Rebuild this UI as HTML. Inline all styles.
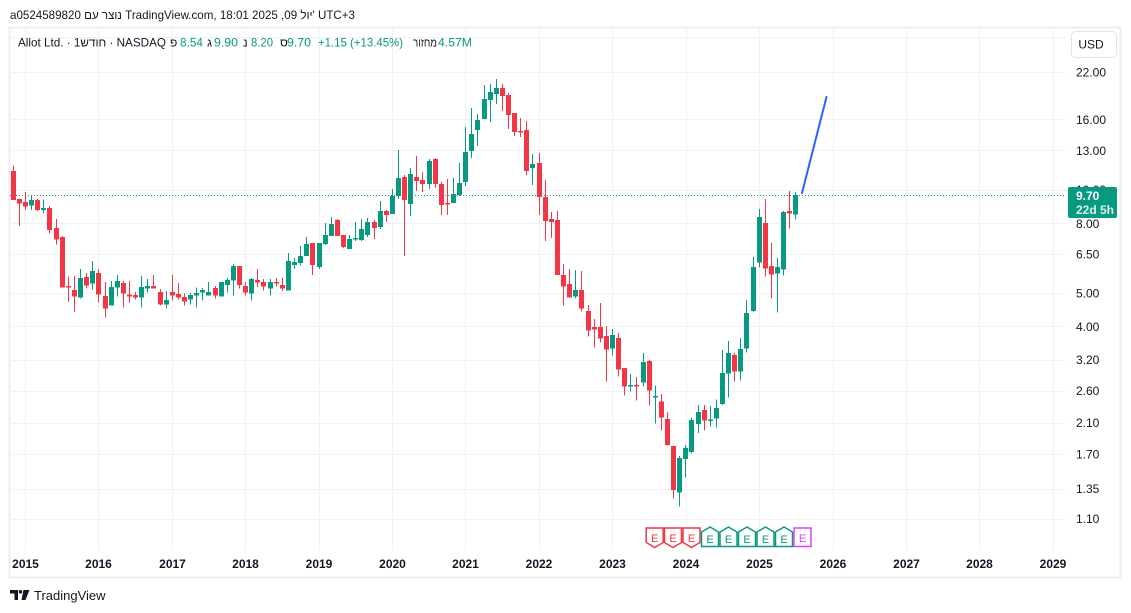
<!DOCTYPE html>
<html><head><meta charset="utf-8"><style>
html,body{margin:0;padding:0;background:#fff;width:1131px;height:613px;overflow:hidden}
svg{display:block;font-family:"Liberation Sans","Noto Sans CJK JP",sans-serif}
</style></head><body>
<svg width="1131" height="613" viewBox="0 0 1131 613" xmlns="http://www.w3.org/2000/svg">
<rect x="0" y="0" width="1131" height="613" fill="#fff"/>
<rect x="9.5" y="27.5" width="1111" height="550" fill="none" stroke="#eceef2" stroke-width="2"/>
<g stroke="#eff1f4" stroke-width="1" shape-rendering="crispEdges">
<line x1="10" y1="37.5" x2="1066" y2="37.5"/>
<line x1="10" y1="72.5" x2="1066" y2="72.5"/>
<line x1="10" y1="119.5" x2="1066" y2="119.5"/>
<line x1="10" y1="150.5" x2="1066" y2="150.5"/>
<line x1="10" y1="190.5" x2="1066" y2="190.5"/>
<line x1="10" y1="223.5" x2="1066" y2="223.5"/>
<line x1="10" y1="254.5" x2="1066" y2="254.5"/>
<line x1="10" y1="293.5" x2="1066" y2="293.5"/>
<line x1="10" y1="326.5" x2="1066" y2="326.5"/>
<line x1="10" y1="360.5" x2="1066" y2="360.5"/>
<line x1="10" y1="391.5" x2="1066" y2="391.5"/>
<line x1="10" y1="423.5" x2="1066" y2="423.5"/>
<line x1="10" y1="454.5" x2="1066" y2="454.5"/>
<line x1="10" y1="489.5" x2="1066" y2="489.5"/>
<line x1="10" y1="519.5" x2="1066" y2="519.5"/>
<line x1="25.5" y1="28" x2="25.5" y2="550"/>
<line x1="98.5" y1="28" x2="98.5" y2="550"/>
<line x1="172.5" y1="28" x2="172.5" y2="550"/>
<line x1="245.5" y1="28" x2="245.5" y2="550"/>
<line x1="319.5" y1="28" x2="319.5" y2="550"/>
<line x1="392.5" y1="28" x2="392.5" y2="550"/>
<line x1="465.5" y1="28" x2="465.5" y2="550"/>
<line x1="539.5" y1="28" x2="539.5" y2="550"/>
<line x1="612.5" y1="28" x2="612.5" y2="550"/>
<line x1="686.5" y1="28" x2="686.5" y2="550"/>
<line x1="759.5" y1="28" x2="759.5" y2="550"/>
<line x1="833.5" y1="28" x2="833.5" y2="550"/>
<line x1="906.5" y1="28" x2="906.5" y2="550"/>
<line x1="979.5" y1="28" x2="979.5" y2="550"/>
<line x1="1053.5" y1="28" x2="1053.5" y2="550"/>
</g>

<!-- price line -->
<line x1="10" y1="195.5" x2="1066" y2="195.5" stroke="#089981" stroke-width="1" stroke-dasharray="1 2"/>

<!-- green candles -->
<g fill="#089981" shape-rendering="crispEdges">
<rect x="31" y="195.3" width="1" height="14.7"/><rect x="29" y="200" width="5" height="5.7"/>
<rect x="43" y="199.3" width="1" height="14.4"/><rect x="41" y="208" width="5" height="2"/>
<rect x="80" y="269" width="1" height="29.7"/><rect x="78" y="278" width="5" height="19.7"/>
<rect x="92" y="261" width="1" height="28.7"/><rect x="90" y="271" width="5" height="12.7"/>
<rect x="111" y="281" width="1" height="24.7"/><rect x="109" y="287" width="5" height="18.7"/>
<rect x="117" y="275" width="1" height="21.7"/><rect x="115" y="281" width="5" height="6.7"/>
<rect x="141" y="276" width="1" height="31.7"/><rect x="139" y="287" width="5" height="10.7"/>
<rect x="147" y="279" width="1" height="13.7"/><rect x="145" y="286" width="5" height="2.7"/>
<rect x="166" y="291" width="1" height="17.7"/><rect x="164" y="300" width="5" height="4.7"/>
<rect x="190" y="293" width="1" height="11.7"/><rect x="188" y="295" width="5" height="4.7"/>
<rect x="196" y="287.7" width="1" height="20"/><rect x="194" y="293" width="5" height="2.7"/>
<rect x="202" y="288" width="1" height="12.7"/><rect x="200" y="290" width="5" height="2.7"/>
<rect x="208" y="282" width="1" height="13.7"/><rect x="206" y="292" width="5" height="3.7"/>
<rect x="221" y="282" width="1" height="14.7"/><rect x="219" y="282" width="5" height="14.7"/>
<rect x="227" y="278" width="1" height="14.7"/><rect x="225" y="280" width="5" height="5"/>
<rect x="233" y="264" width="1" height="31.7"/><rect x="231" y="266" width="5" height="14.7"/>
<rect x="251" y="278" width="1" height="22.7"/><rect x="249" y="279" width="5" height="14.7"/>
<rect x="270" y="279" width="1" height="16.7"/><rect x="268" y="282" width="5" height="6.7"/>
<rect x="288" y="253" width="1" height="37.7"/><rect x="286" y="261" width="5" height="29.5"/>
<rect x="294" y="258" width="1" height="11"/><rect x="292" y="262" width="5" height="3"/>
<rect x="300" y="246" width="1" height="19.7"/><rect x="298" y="256" width="5" height="7"/>
<rect x="306" y="237" width="1" height="19"/><rect x="304" y="244" width="5" height="12"/>
<rect x="319" y="243" width="1" height="26"/><rect x="317" y="243" width="5" height="24"/>
<rect x="325" y="223" width="1" height="22"/><rect x="323" y="235" width="5" height="9"/>
<rect x="331" y="217" width="1" height="19"/><rect x="329" y="224" width="5" height="12"/>
<rect x="349" y="235" width="1" height="14"/><rect x="347" y="239" width="5" height="10"/>
<rect x="355" y="222" width="1" height="19"/><rect x="353" y="238" width="5" height="1.5"/>
<rect x="361" y="219" width="1" height="22"/><rect x="359" y="229" width="5" height="11"/>
<rect x="367" y="218" width="1" height="19"/><rect x="365" y="222" width="5" height="13"/>
<rect x="380" y="201" width="1" height="28"/><rect x="378" y="211" width="5" height="16"/>
<rect x="392" y="189" width="1" height="25"/><rect x="390" y="196" width="5" height="18"/>
<rect x="398" y="150" width="1" height="49"/><rect x="396" y="178" width="5" height="18"/>
<rect x="410" y="168" width="1" height="48"/><rect x="408" y="174" width="5" height="30"/>
<rect x="429" y="159" width="1" height="30"/><rect x="427" y="161" width="5" height="23"/>
<rect x="453" y="178" width="1" height="25"/><rect x="451" y="194" width="5" height="9"/>
<rect x="459" y="163" width="1" height="33"/><rect x="457" y="183" width="5" height="12"/>
<rect x="465" y="127" width="1" height="59"/><rect x="463" y="152" width="5" height="30"/>
<rect x="471" y="108" width="1" height="50"/><rect x="469" y="134" width="5" height="17"/>
<rect x="477" y="114" width="1" height="32"/><rect x="475" y="120" width="5" height="10"/>
<rect x="484" y="85" width="1" height="34"/><rect x="482" y="99" width="5" height="20"/>
<rect x="490" y="84" width="1" height="38"/><rect x="488" y="92" width="5" height="8"/>
<rect x="496" y="79" width="1" height="25"/><rect x="494" y="88" width="5" height="6"/>
<rect x="532" y="154" width="1" height="31"/><rect x="530" y="164" width="5" height="4"/>
<rect x="575" y="270" width="1" height="28.7"/><rect x="573" y="290" width="5" height="6.7"/>
<rect x="612" y="329" width="1" height="26.7"/><rect x="610" y="335" width="5" height="13.7"/>
<rect x="630" y="374" width="1" height="17.7"/><rect x="628" y="385" width="5" height="1.7"/>
<rect x="643" y="353" width="1" height="33.7"/><rect x="641" y="362" width="5" height="20.7"/>
<rect x="655" y="385.7" width="1" height="38"/><rect x="653" y="396" width="5" height="1.3"/>
<rect x="679" y="456" width="1" height="50.7"/><rect x="677" y="458" width="5" height="34.5"/>
<rect x="685" y="445" width="1" height="32.7"/><rect x="683" y="448" width="5" height="11"/>
<rect x="691" y="418" width="1" height="35.7"/><rect x="689" y="420" width="5" height="32"/>
<rect x="698" y="405" width="1" height="28"/><rect x="696" y="412" width="5" height="12"/>
<rect x="710" y="406" width="1" height="20.7"/><rect x="708" y="419.7" width="5" height="1.3"/>
<rect x="716" y="399.7" width="1" height="28"/><rect x="714" y="408" width="5" height="10.7"/>
<rect x="722" y="350" width="1" height="55"/><rect x="720" y="373" width="5" height="31"/>
<rect x="728" y="341" width="1" height="56.7"/><rect x="726" y="353" width="5" height="20.7"/>
<rect x="740" y="338" width="1" height="42.7"/><rect x="738" y="349" width="5" height="22.7"/>
<rect x="746" y="300" width="1" height="52.7"/><rect x="744" y="313" width="5" height="35.7"/>
<rect x="753" y="257" width="1" height="55"/><rect x="751" y="267" width="5" height="44"/>
<rect x="759" y="209" width="1" height="58.7"/><rect x="757" y="217" width="5" height="45.7"/>
<rect x="777" y="258" width="1" height="54.7"/><rect x="775" y="267" width="5" height="6.7"/>
<rect x="783" y="211" width="1" height="64.7"/><rect x="781" y="212" width="5" height="57.7"/>
<rect x="795" y="192" width="1" height="27.7"/><rect x="793" y="195" width="5" height="19.7"/>
</g>

<!-- red candles -->
<g fill="#f23645" shape-rendering="crispEdges">
<rect x="13" y="165.7" width="1" height="34.3"/><rect x="11" y="171" width="5" height="29"/>
<rect x="19" y="198.3" width="1" height="27.7"/><rect x="17" y="199" width="5" height="4.7"/>
<rect x="25" y="192" width="1" height="18"/><rect x="23" y="202" width="5" height="4.7"/>
<rect x="37" y="198.3" width="1" height="12.7"/><rect x="35" y="200" width="5" height="10"/>
<rect x="49" y="206" width="1" height="27.7"/><rect x="47" y="208" width="5" height="22"/>
<rect x="56" y="219" width="1" height="25.7"/><rect x="54" y="228" width="5" height="11.7"/>
<rect x="62" y="236" width="1" height="51.7"/><rect x="60" y="237" width="5" height="50.7"/>
<rect x="68" y="276.7" width="1" height="25.3"/><rect x="66" y="286" width="5" height="1.7"/>
<rect x="74" y="276" width="1" height="36"/><rect x="72" y="290" width="5" height="6.7"/>
<rect x="86" y="273" width="1" height="15.7"/><rect x="84" y="277" width="5" height="8.7"/>
<rect x="98" y="269" width="1" height="33.7"/><rect x="96" y="273" width="5" height="21.7"/>
<rect x="105" y="282" width="1" height="35.7"/><rect x="103" y="296" width="5" height="12.7"/>
<rect x="123" y="281" width="1" height="26.7"/><rect x="121" y="283" width="5" height="10.7"/>
<rect x="129" y="281" width="1" height="21.7"/><rect x="127" y="294.7" width="5" height="2"/>
<rect x="135" y="292" width="1" height="7.7"/><rect x="133" y="295" width="5" height="2.7"/>
<rect x="153" y="275" width="1" height="13.7"/><rect x="151" y="286" width="5" height="2.7"/>
<rect x="160" y="289" width="1" height="16.7"/><rect x="158" y="292" width="5" height="12.7"/>
<rect x="172" y="275" width="1" height="25.7"/><rect x="170" y="292" width="5" height="3.7"/>
<rect x="178" y="283" width="1" height="16.7"/><rect x="176" y="294" width="5" height="3.7"/>
<rect x="184" y="293.7" width="1" height="12"/><rect x="182" y="297" width="5" height="4.7"/>
<rect x="215" y="286" width="1" height="12.7"/><rect x="213" y="288" width="5" height="7.7"/>
<rect x="239" y="266" width="1" height="22.7"/><rect x="237" y="266" width="5" height="19"/>
<rect x="245" y="282" width="1" height="13.7"/><rect x="243" y="286" width="5" height="6.7"/>
<rect x="257" y="269" width="1" height="18"/><rect x="255" y="280" width="5" height="2.7"/>
<rect x="263" y="279" width="1" height="11.7"/><rect x="261" y="282" width="5" height="4.7"/>
<rect x="276" y="278" width="1" height="8.7"/><rect x="274" y="282" width="5" height="1.3"/>
<rect x="282" y="278" width="1" height="13"/><rect x="280" y="285" width="5" height="3.5"/>
<rect x="312" y="243" width="1" height="32"/><rect x="310" y="243" width="5" height="22"/>
<rect x="337" y="219" width="1" height="17"/><rect x="335" y="220" width="5" height="16"/>
<rect x="343" y="235" width="1" height="13"/><rect x="341" y="235" width="5" height="12"/>
<rect x="374" y="220" width="1" height="19"/><rect x="372" y="222" width="5" height="6"/>
<rect x="386" y="210" width="1" height="12"/><rect x="384" y="211" width="5" height="4"/>
<rect x="404" y="175" width="1" height="81"/><rect x="402" y="177" width="5" height="23"/>
<rect x="416" y="156" width="1" height="35"/><rect x="414" y="177" width="5" height="4"/>
<rect x="422" y="172" width="1" height="20"/><rect x="420" y="180" width="5" height="4"/>
<rect x="435" y="158" width="1" height="30"/><rect x="433" y="159" width="5" height="25"/>
<rect x="441" y="182" width="1" height="33"/><rect x="439" y="184" width="5" height="21"/>
<rect x="447" y="179" width="1" height="36"/><rect x="445" y="203" width="5" height="1.3"/>
<rect x="502" y="84" width="1" height="27"/><rect x="500" y="88" width="5" height="8"/>
<rect x="508" y="93" width="1" height="36"/><rect x="506" y="95" width="5" height="20"/>
<rect x="514" y="113" width="1" height="23"/><rect x="512" y="113" width="5" height="19"/>
<rect x="520" y="118" width="1" height="19"/><rect x="518" y="131" width="5" height="1.3"/>
<rect x="526" y="121" width="1" height="54"/><rect x="524" y="130" width="5" height="41"/>
<rect x="539" y="153" width="1" height="62"/><rect x="537" y="163" width="5" height="34"/>
<rect x="545" y="180" width="1" height="61"/><rect x="543" y="197" width="5" height="24"/>
<rect x="551" y="212" width="1" height="26"/><rect x="549" y="219" width="5" height="3"/>
<rect x="557" y="211" width="1" height="64"/><rect x="555" y="220" width="5" height="55"/>
<rect x="563" y="264" width="1" height="41.7"/><rect x="561" y="275" width="5" height="11.7"/>
<rect x="569" y="269" width="1" height="28.7"/><rect x="567" y="284" width="5" height="13.7"/>
<rect x="581" y="271" width="1" height="40.7"/><rect x="579" y="290" width="5" height="18.7"/>
<rect x="588" y="305" width="1" height="31.7"/><rect x="586" y="311" width="5" height="19.7"/>
<rect x="594" y="319" width="1" height="28.7"/><rect x="592" y="327" width="5" height="2.7"/>
<rect x="600" y="303" width="1" height="39.7"/><rect x="598" y="327" width="5" height="11.7"/>
<rect x="606" y="326" width="1" height="55.7"/><rect x="604" y="336" width="5" height="13.7"/>
<rect x="618" y="333" width="1" height="43.7"/><rect x="616" y="338" width="5" height="31.7"/>
<rect x="624" y="368" width="1" height="27.7"/><rect x="622" y="368" width="5" height="18.7"/>
<rect x="636" y="377" width="1" height="23.7"/><rect x="634" y="385" width="5" height="1.3"/>
<rect x="649" y="360" width="1" height="45.7"/><rect x="647" y="361" width="5" height="29.7"/>
<rect x="661" y="394" width="1" height="36.7"/><rect x="659" y="401.7" width="5" height="16"/>
<rect x="667" y="412" width="1" height="33.7"/><rect x="665" y="419" width="5" height="26"/>
<rect x="673" y="445.7" width="1" height="52.8"/><rect x="671" y="446" width="5" height="44"/>
<rect x="704" y="405" width="1" height="25.7"/><rect x="702" y="410" width="5" height="10.7"/>
<rect x="734" y="353" width="1" height="28.7"/><rect x="732" y="355" width="5" height="16.7"/>
<rect x="765" y="199" width="1" height="77.7"/><rect x="763" y="223" width="5" height="45.7"/>
<rect x="771" y="243" width="1" height="55.7"/><rect x="769" y="266" width="5" height="8.7"/>
<rect x="789" y="191" width="1" height="37.7"/><rect x="787" y="211" width="5" height="2.7"/>
</g>

<!-- projection line -->
<line x1="802" y1="193" x2="826.5" y2="97" stroke="#2962ff" stroke-width="2" stroke-linecap="round"/>

<!-- earnings markers -->
<g stroke-width="1.5" fill="#fff" font-size="11" text-anchor="middle">
<path d="M646.2,528 H663.2 V542.5 L654.7,547.5 L646.2,542.5 Z" stroke="#f23645"/>
<path d="M664.5,528 H681.5 V542.5 L673,547.5 L664.5,542.5 Z" stroke="#f23645"/>
<path d="M683,528 H700 V542.5 L691.5,547.5 L683,542.5 Z" stroke="#f23645"/>
<path d="M701.5,532 L710,527 L718.5,532 V546.5 H701.5 Z" stroke="#089981"/>
<path d="M720,532 L728.5,527 L737,532 V546.5 H720 Z" stroke="#089981"/>
<path d="M738.5,532 L747,527 L755.5,532 V546.5 H738.5 Z" stroke="#089981"/>
<path d="M757,532 L765.5,527 L774,532 V546.5 H757 Z" stroke="#089981"/>
<path d="M775.5,532 L784,527 L792.5,532 V546.5 H775.5 Z" stroke="#089981"/>
<rect x="794" y="528" width="17" height="18.5" stroke="#e040fb"/>
<g stroke="none">
<text x="654.7" y="542" fill="#f23645">E</text>
<text x="673" y="542" fill="#f23645">E</text>
<text x="691.5" y="542" fill="#f23645">E</text>
<text x="710" y="543" fill="#089981">E</text>
<text x="728.5" y="543" fill="#089981">E</text>
<text x="747" y="543" fill="#089981">E</text>
<text x="765.5" y="543" fill="#089981">E</text>
<text x="784" y="543" fill="#089981">E</text>
<text x="802.5" y="542" fill="#e040fb">E</text>
</g>
</g>

<!-- price axis labels -->
<g font-size="12" fill="#131722">
<text x="1076" y="76.5">22.00</text>
<text x="1076" y="124">16.00</text>
<text x="1076" y="155">13.00</text>
<text x="1076" y="194">10.00</text>
<text x="1076" y="228">8.00</text>
<text x="1076" y="258.5">6.50</text>
<text x="1076" y="297.5">5.00</text>
<text x="1076" y="331">4.00</text>
<text x="1076" y="364">3.20</text>
<text x="1076" y="395">2.60</text>
<text x="1076" y="427">2.10</text>
<text x="1076" y="458.5">1.70</text>
<text x="1076" y="493">1.35</text>
<text x="1076" y="523">1.10</text>
</g>
<rect x="1068" y="187" width="49" height="31" rx="2" fill="#089981"/>
<text x="1076" y="200" font-size="12" font-weight="bold" fill="#fff">9.70</text>
<text x="1076" y="214" font-size="12" font-weight="bold" fill="#fff" fill-opacity="0.85">22d 5h</text>

<!-- USD button -->
<rect x="1071.5" y="31.5" width="45" height="26" rx="4" fill="#fff" stroke="#e0e3eb"/>
<text x="1091" y="48.5" font-size="12" fill="#131722" text-anchor="middle">USD</text>

<!-- time axis -->
<g font-size="12" font-weight="bold" fill="#131722" text-anchor="middle">
<text x="25.5" y="568">2015</text>
<text x="98.5" y="568">2016</text>
<text x="172.5" y="568">2017</text>
<text x="245.5" y="568">2018</text>
<text x="319" y="568">2019</text>
<text x="392.5" y="568">2020</text>
<text x="465.5" y="568">2021</text>
<text x="539" y="568">2022</text>
<text x="612.5" y="568">2023</text>
<text x="686" y="568">2024</text>
<text x="759.5" y="568">2025</text>
<text x="833" y="568">2026</text>
<text x="906.5" y="568">2027</text>
<text x="979.5" y="568">2028</text>
<text x="1053" y="568">2029</text>
</g>

<!-- header -->
<text x="10" y="19" font-size="12" fill="#131722" textLength="345" lengthAdjust="spacingAndGlyphs">a0524589820 נוצר עם TradingView.com, 18:01 2025 ,09 יול' UTC+3</text>
<g font-size="12">
<text x="18" y="46.5" fill="#131722" textLength="148" lengthAdjust="spacingAndGlyphs">Allot Ltd. · 1חודש · NASDAQ</text>
<text x="170" y="46.5" fill="#131722">פ</text><text x="180" y="46.5" fill="#089981" textLength="23" lengthAdjust="spacingAndGlyphs">8.54</text>
<text x="207" y="46.5" fill="#131722">ג</text><text x="214" y="46.5" fill="#089981" textLength="24" lengthAdjust="spacingAndGlyphs">9.90</text>
<text x="243" y="46.5" fill="#131722">נ</text><text x="251" y="46.5" fill="#089981" textLength="22" lengthAdjust="spacingAndGlyphs">8.20</text>
<text x="280" y="46.5" fill="#131722">ס</text><text x="287" y="46.5" fill="#089981" textLength="24" lengthAdjust="spacingAndGlyphs">9.70</text>
<text x="318" y="46.5" fill="#089981" textLength="85" lengthAdjust="spacingAndGlyphs">+1.15 (+13.45%)</text>
<text x="413" y="46.5" fill="#131722" textLength="24" lengthAdjust="spacingAndGlyphs">מחזור</text><text x="438" y="46.5" fill="#089981" textLength="34" lengthAdjust="spacingAndGlyphs">4.57M</text>
</g>

<!-- footer logo -->
<g fill="#131722">
<path d="M10,590 H18 V600 H14.5 V593.5 H10 Z"/>
<circle cx="20.5" cy="591.8" r="1.8"/>
<path d="M23.5,590 H29.5 L25.5,600 H21.5 Z"/>
</g>
<text x="34" y="600" font-size="13" fill="#131722">TradingView</text>
</svg>
</body></html>
